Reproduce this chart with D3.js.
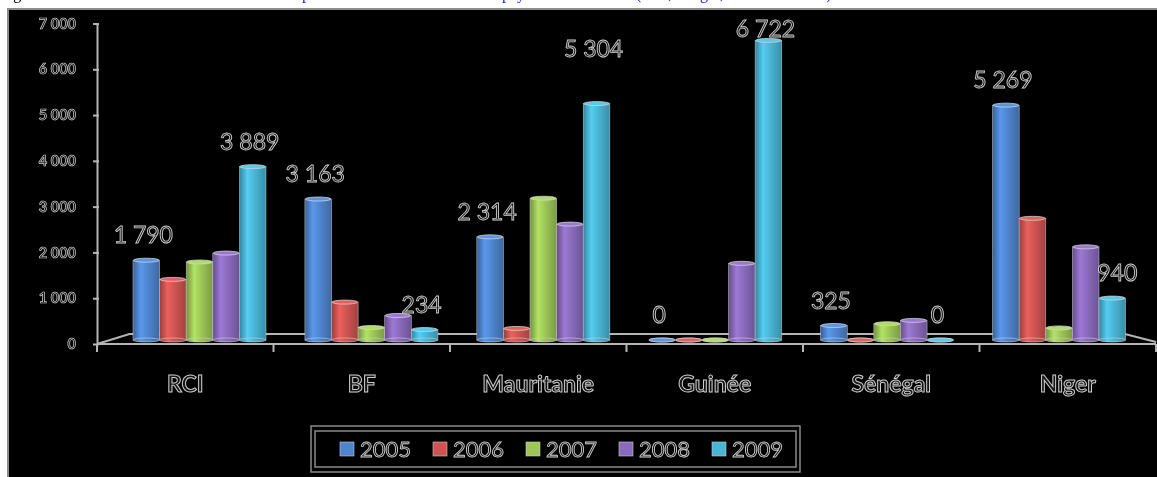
<!DOCTYPE html>
<html><head><meta charset="utf-8">
<script src="https://cdn.jsdelivr.net/npm/d3@7/dist/d3.min.js"></script>
<style>html,body{margin:0;padding:0;background:#fff;overflow:hidden} svg text{will-change:transform}</style>
</head><body>
<svg id="c" width="1157" height="477"></svg>
<script>
const categories = ["RCI", "BF", "Mauritanie", "Guinée", "Sénégal", "Niger"];
const years = ["2005", "2006", "2007", "2008", "2009"];
const v2005 = [1790, 3163, 2314, 0, 325, 5269];
const v2006 = [1360, 850, 260, 0, 0, 2730];
const v2007 = [1750, 280, 3180, 0, 365, 270];
const v2008 = [1950, 550, 2600, 1720, 440, 2090];
const v2009 = [3889, 234, 5304, 6722, 0, 940];
const yTicks = [0, 1000, 2000, 3000, 4000, 5000, 6000, 7000];
const labelledYears = ["2005", "2009"];
const colors = ["#4f86d0", "#d05552", "#9dc858", "#8b6bbd", "#4ab6d6"];

const series = [v2005, v2006, v2007, v2008, v2009];
const svg = d3.select("#c");
const fmt = d => d3.format(",")(d).replace(/,/g, " ");
const outline = sel => sel.attr("fill", "#151515").attr("stroke", "#cfcfcf");

// caption (cut off at top, as in the reference)
const cap = svg.append("text").attr("y", -1).attr("font-family", "Liberation Serif").attr("font-size", 16);
cap.append("tspan").attr("x", 0).attr("fill", "#000").text("Figure 4 : Evolution des");
cap.append("tspan").attr("x", 302).attr("fill", "#1a1aff").text("production des");
cap.append("tspan").attr("x", 502).attr("fill", "#1a1aff").text("pays membres");
cap.append("tspan").attr("x", 636).attr("fill", "#1a1aff").text("(RCI,");
cap.append("tspan").attr("x", 684).attr("fill", "#1a1aff").text("Niger,");
cap.append("tspan").attr("x", 756).attr("fill", "#1a1aff").text("Mauritanie)");

// frame
svg.append("rect").attr("x", 8).attr("y", 9).attr("width", 1160).attr("height", 480)
  .attr("fill", "#000").attr("stroke", "#8c8c8c").attr("stroke-width", 2);

// scales
const x0 = d3.scaleBand().domain(categories).range([113.5, 1145]);
const x1 = d3.scaleBand().domain(years).range([19.5, 152.5]);
const xf = d3.scaleBand().domain(categories).range([97, 1156]);
const yBar = d3.scaleLinear().domain([0, 7000]).range([340, 28]);
const yAx = d3.scaleLinear().domain([0, 7000]).range([344, 23.5]);

// gradients
const defs = svg.append("defs");
colors.forEach((c, i) => {
  const g = defs.append("linearGradient").attr("id", "g" + i).attr("x1", 0).attr("x2", 1).attr("y1", 0).attr("y2", 0);
  const base = d3.color(c);
  g.append("stop").attr("offset", 0).attr("stop-color", base.darker(0.9));
  g.append("stop").attr("offset", 0.3).attr("stop-color", base.brighter(0.35));
  g.append("stop").attr("offset", 0.55).attr("stop-color", base);
  g.append("stop").attr("offset", 1).attr("stop-color", base.darker(0.7));
});

// floor
const floorC = "#b5b5b5";
const fl = svg.append("g").attr("stroke", floorC).attr("stroke-width", 2).attr("fill", "none");
fl.append("path").attr("d", `M${xf.range()[0]},${yAx(0)}L${x0.range()[0] + 16},${yBar(0) - 6}L${x0.range()[1] - 20},${yBar(0) - 6}L${xf.range()[1]},${yAx(0) - 2}`);
fl.append("line").attr("x1", xf.range()[0]).attr("x2", xf.range()[1]).attr("y1", yAx(0)).attr("y2", yAx(0));

// category ticks
fl.selectAll("line.ct").data(categories.concat(["end"])).join("line").attr("class", "ct")
  .attr("x1", (d, i) => xf.range()[0] + i * xf.step()).attr("x2", (d, i) => xf.range()[0] + i * xf.step())
  .attr("y1", yAx(0)).attr("y2", yAx(0) + 8);

// y axis
const ax = svg.append("g").attr("transform", `translate(${xf.range()[0]},0)`)
  .call(d3.axisLeft(yAx).tickValues(yTicks).tickFormat(fmt).tickSizeInner(4).tickSizeOuter(0).tickPadding(17));
ax.select(".domain").attr("stroke", floorC).attr("stroke-width", 2);
ax.selectAll(".tick line").attr("stroke", floorC).attr("stroke-width", 2).attr("x2", -4).attr("x1", 2);
ax.selectAll(".tick text").attr("font-family", "Lato").attr("font-weight", "bold").attr("font-size", 14.5)
  .call(outline).attr("stroke-width", 0.7);

// bars
const data = [];
categories.forEach((c, ci) => years.forEach((y, yi) => data.push({ c, y, yi, v: series[yi][ci] })));
const bw = x1.bandwidth();
const bars = svg.append("g").selectAll("g").data(data).join("g")
  .attr("transform", d => `translate(${x0(d.c) + x1(d.y)},0)`);
bars.filter(d => d.v > 0).append("rect")
  .attr("x", 0).attr("width", bw).attr("y", d => yBar(d.v)).attr("height", d => yBar(0) - yBar(d.v))
  .attr("fill", d => `url(#g${d.yi})`).attr("stroke", "#d8d8d8").attr("stroke-width", 0.6).attr("stroke-opacity", 0.8);
bars.append("ellipse").attr("cx", bw / 2).attr("cy", yBar(0)).attr("rx", bw / 2).attr("ry", 2)
  .attr("fill", d => `url(#g${d.yi})`).attr("stroke", "#cfcfcf").attr("stroke-width", 0.6);
bars.append("ellipse").attr("cx", bw / 2).attr("cy", d => yBar(d.v)).attr("rx", bw / 2 - 0.5).attr("ry", 2)
  .attr("fill", d => d3.color(colors[d.yi]).brighter(0.3)).attr("stroke", "#d0d0d0").attr("stroke-width", 0.8);

// data labels
const labelLift = { "Mauritanie-2009": 30 };
const lab = data.filter(d => labelledYears.includes(d.y));
svg.append("g").attr("opacity", 0.999).selectAll("text").data(lab).join("text")
  .attr("x", d => x0(d.c) + x1(d.y) + bw / 2 - (d.c === "Niger" && d.y === "2009" ? -5 : 3))
  .attr("y", d => Math.max(yBar(d.v) - 17 - (labelLift[d.c + "-" + d.y] || 0), 37))
  .attr("text-anchor", "middle").attr("font-family", "Lato").attr("font-size", 23)
  .call(outline).attr("stroke-width", 0.9).text(d => fmt(d.v));

// category labels
svg.append("g").attr("opacity", 0.999).selectAll("text").data(categories).join("text")
  .attr("x", d => xf(d) + xf.bandwidth() / 2).attr("y", 392)
  .attr("text-anchor", "middle").attr("font-family", "Lato").attr("font-weight", "bold").attr("font-size", 23)
  .call(outline).attr("stroke-width", 1).text(d => d);

// legend
const lg = svg.append("g").attr("opacity", 0.999);
lg.append("rect").attr("x", 311).attr("y", 426).attr("width", 489).attr("height", 46).attr("fill", "none").attr("stroke", "#8c8c8c").attr("stroke-width", 1.5);
lg.append("rect").attr("x", 315).attr("y", 431).attr("width", 481).attr("height", 36).attr("fill", "none").attr("stroke", "#8c8c8c").attr("stroke-width", 1.5);
const li = lg.selectAll("g.it").data(years).join("g").attr("class", "it")
  .attr("transform", (d, i) => `translate(${340 + i * 93},0)`);
li.append("rect").attr("x", 0).attr("y", 442).attr("width", 14).attr("height", 14)
  .attr("fill", (d, i) => colors[i]).attr("stroke", "#ccc").attr("stroke-width", 0.6);
li.append("text").attr("x", 20).attr("y", 457).attr("font-family", "Lato").attr("font-size", 22)
  .call(outline).attr("stroke-width", 0.9).text(d => d);
</script>
</body></html>
